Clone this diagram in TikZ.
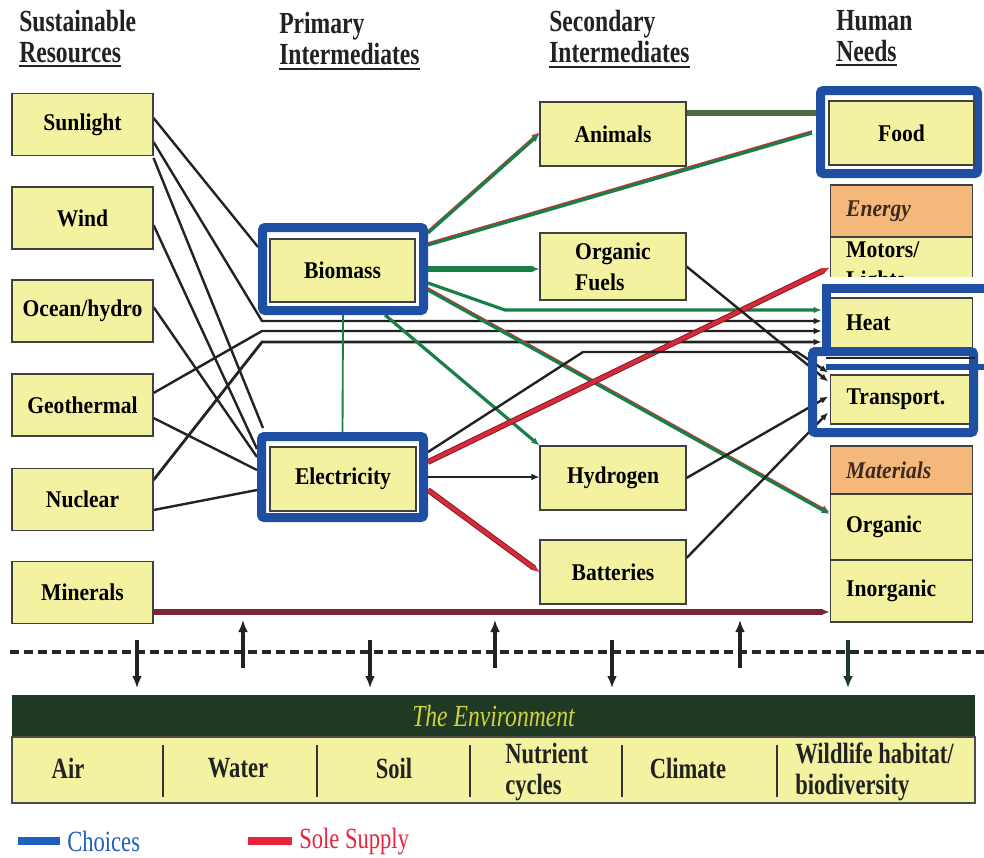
\documentclass[tikz,border=0pt]{standalone}
\usepackage{fontspec}
\setmainfont{Liberation Serif}
\newfontfamily\condfont[FakeStretch=0.77]{Liberation Serif}
\newfontfamily\cellfont[FakeStretch=0.9]{Liberation Serif}
\usetikzlibrary{arrows.meta,calc}
\pgfdeclarelayer{background}
\pgfsetlayers{background,main}

\definecolor{boxy}{HTML}{F3F2A0}
\definecolor{orng}{HTML}{F4B87A}
\definecolor{chblue}{HTML}{1F4FA3}
\definecolor{grn}{HTML}{1A7F47}
\definecolor{redc}{HTML}{D52B3A}
\definecolor{darkred}{HTML}{8B1A22}
\definecolor{maroon}{HTML}{7C2633}
\definecolor{olivec}{HTML}{4E6B40}
\definecolor{envg}{HTML}{1E3A25}
\definecolor{envtxt}{HTML}{D2D23A}
\definecolor{ink}{HTML}{222222}
\definecolor{legblue}{HTML}{1F5FBF}
\definecolor{legred}{HTML}{E8243A}
\definecolor{catink}{HTML}{3D2B1F}

\tikzset{
  cell/.style={draw=black!75, line width=0.8pt, fill=boxy, inner sep=0pt,
    font=\cellfont\bfseries\fontsize{18}{20}\selectfont, align=center},
  src/.style={cell, minimum width=105.75pt, minimum height=46.5pt},
  mid/.style={cell, minimum width=109.5pt, minimum height=48pt},
  need/.style={cell, text width=83pt, inner xsep=12pt, align=left},
  choice/.style={draw=chblue, line width=6.75pt, fill=white, rounded corners=2pt, inner sep=0pt},
  hdr/.style={inner sep=0pt, font=\condfont\bfseries\fontsize{23}{24}\selectfont, text=ink},
  uline/.style={draw=ink, line width=1.3pt},
  envlab/.style={inner sep=0pt, font=\condfont\bfseries\fontsize{22}{23}\selectfont, align=left, text=ink},
  arr/.style={-{Latex[length=6pt,width=5pt]}},
  blk/.style={draw=ink, line width=1.8pt},
  blkheavy/.style={draw=ink!85!envg, line width=2.1pt},
  grnline/.style={draw=grn, line width=2.4pt},
  grnthick/.style={draw=grn, line width=4.2pt},
  grnthin/.style={draw=grn, line width=1.4pt},
  redgreen/.style={draw=grn, line width=2.4pt,
    preaction={draw=redc, line width=1.6pt, transform canvas={yshift=1.3pt}}},
  redline/.style={draw=redc, line width=2.8pt, preaction={draw=darkred, line width=4.3pt}},
  envarrow/.style={draw=ink, line width=3pt, -{Latex[length=9pt,width=7.5pt]}}
}

\begin{document}
\begin{tikzpicture}[x=0.75pt,y=-0.75pt]
\useasboundingbox (0,0) rectangle (984,857);

% column headings
\node[hdr, anchor=base west] (hsus) at (19,31) {Sustainable};
\node[hdr, anchor=base west] (hres) at (19,62) {Resources};
\node[hdr, anchor=base west] (hpri) at (279,33) {Primary};
\node[hdr, anchor=base west] (hint1) at (279,64) {Intermediates};
\node[hdr, anchor=base west] (hsec) at (549,31) {Secondary};
\node[hdr, anchor=base west] (hint2) at (549,62) {Intermediates};
\node[hdr, anchor=base west] (hhum) at (836,30) {Human};
\node[hdr, anchor=base west] (hnee) at (836,61) {Needs};
\draw[uline] ($(hres.base west)+(0,4)$) -- ($(hres.base east)+(0,4)$);
\draw[uline] ($(hint1.base west)+(0,5)$) -- ($(hint1.base east)+(0,5)$);
\draw[uline] ($(hint2.base west)+(0,5)$) -- ($(hint2.base east)+(0,5)$);
\draw[uline] ($(hnee.base west)+(0,4)$) -- ($(hnee.base east)+(0,4)$);

% sustainable resources
\node[src] (sun)   at (82.5,124.5) {Sunlight};
\node[src] (wind)  at (82.5,218)   {Wind};
\node[src] (ocean) at (82.5,311)   {Ocean/hydro};
\node[src] (geo)   at (82.5,405)   {Geothermal};
\node[src] (nuc)   at (82.5,499.5) {Nuclear};
\node[src] (min)   at (82.5,592.5) {Minerals};

% primary intermediates (framed as choices)
\node[choice, minimum width=120.75pt, minimum height=62.25pt] (bioF) at (343,269) {};
\node[cell, minimum width=108.75pt, minimum height=47.25pt] (bio) at (342.5,270.5) {Biomass};
\node[choice, minimum width=121.5pt, minimum height=60.75pt] (eleF) at (342.5,477) {};
\node[cell, minimum width=109.5pt, minimum height=48pt] (ele) at (343,479) {Electricity};

% secondary intermediates
\node[mid] (anim) at (613,134) {Animals};
\node[mid, minimum height=50.25pt, align=left, font=\cellfont\bfseries\fontsize{18}{23}\selectfont] (fuel) at (613,266.5) {Organic\\Fuels};
\node[mid] (hydro) at (613,478) {Hydrogen};
\node[mid] (batt) at (613,572) {Batteries};

% human needs
\node[choice, minimum width=117.75pt, minimum height=62.25pt] (foodF) at (899,132) {};
\node[cell, minimum width=108.75pt, minimum height=48pt] (food) at (901.5,133) {Food};

\node[need, fill=orng, minimum height=39pt, font=\cellfont\bfseries\itshape\fontsize{18}{20}\selectfont, text=catink] (energy) at (901.5,211) {Energy};
\node[need, minimum height=45.75pt, font=\cellfont\bfseries\fontsize{18}{22.5}\selectfont] (motors) at (901.5,267.5) {Motors/\\Lights};
\node[need, minimum height=37.5pt] (heat) at (901.5,323) {Heat};
\node[need, text width=80pt, minimum height=36.75pt] (trans) at (900,399.5) {Transport.};

\node[need, fill=orng, minimum height=36pt, font=\cellfont\bfseries\itshape\fontsize{18}{20}\selectfont, text=catink] (mats) at (901.5,470) {Materials};
\node[need, minimum height=49.5pt] (orgm) at (901.5,527) {Organic};
\node[need, minimum height=46.5pt] (inorg) at (901.5,591) {Inorganic};

% frames around heat and transport
\fill[white] (826,277) rectangle (984,297.4);
\draw[chblue, line width=6.75pt] (984,288) -- (826,288) -- (826,347);
\draw[chblue, line width=6.75pt, rounded corners=2pt] (812.5,351.5) rectangle (973.5,432.5);
\draw[ink, line width=0.8pt] (826,358) -- (975,358);
\draw[chblue, line width=4pt] (826,367) -- (984,367);

% bend points of the routed connectors
\coordinate (h1) at (262,321);
\coordinate (h2) at (262,331);
\coordinate (h3) at (262,342);
\coordinate (hg) at (505,310);
\coordinate (e1) at (583,352);
\coordinate (e2) at (797,352);

\begin{pgfonlayer}{background}
  % resources into biomass, electricity and heat
  \draw[blk] ($(sun.east)+(0,-6.5)$) -- ($(bioF.west)+(0,-22)$);
  \draw[blk, arr] ($(sun.east)+(0,17.5)$) -- (h1) -- ($(heat.west)+(-8,-2)$);
  \draw[blk] ($(sun.east)+(0,33.5)$) -- ($(eleF.north west)+(6,-4)$);
  \draw[blk] ($(wind.east)+(0,7)$) -- ($(eleF.west)+(0,-28)$);
  \draw[blk] ($(ocean.east)+(0,-4)$) -- ($(eleF.west)+(0,-20)$);
  \draw[blk, arr] ($(geo.east)+(0,-12)$) -- (h2) -- ($(heat.west)+(-8,8)$);
  \draw[blk] ($(geo.east)+(0,13)$) -- ($(eleF.west)+(0,-7)$);
  \draw[blkheavy, arr] ($(nuc.east)+(0,-19.5)$) -- (h3) -- ($(heat.west)+(-8,19)$);
  \draw[blk] ($(nuc.east)+(0,10.5)$) -- ($(eleF.west)+(0,13)$);
  \draw[maroon, line width=3.8pt, -{Latex[length=6pt,width=5pt]}] ($(min.east)+(0,19.5)$) coordinate (m0) -- (m0 -| inorg.west);

  % biomass outputs
  \draw[redgreen, arr] ($(bioF.east)+(0,-36)$) -- (anim.west);
  \draw[redgreen] ($(bioF.east)+(0,-24)$) -- ($(foodF.west)+(-4,1)$);
  \draw[olivec, line width=4.5pt] ($(anim.east)+(0,-21)$) coordinate (a0) -- (a0 -| foodF.west);
  \draw[grnthick, arr] (bioF.east) -- (bioF.east -| fuel.west);
  \draw[grnline, arr] ($(bioF.east)+(0,14)$) -- (hg) -- ($(heat.west)+(-8,-13)$);
  \draw[redgreen, arr] ($(bioF.east)+(0,21)$) -- ($(orgm.west)+(0,-13)$);
  \draw[grnline, arr] ($(bioF.south)+(42,0)$) -- (hydro.north west);
  \draw[grnthin] (bioF.south) -- (eleF.north);

  % electricity outputs
  \draw[redline, arr] ($(eleF.east)+(0,-15)$) -- (motors.west);
  \draw[blk, arr] ($(eleF.east)+(0,-25)$) -- (e1) -- (e2) -- ($(trans.west)+(-2,-27)$);
  \draw[blk, arr] (eleF.east) -- (eleF.east -| hydro.west);
  \draw[redline, arr] ($(eleF.east)+(0,13)$) -- (batt.west);

  % fuels and carriers into transport
  \draw[blk, arr] (fuel.east) -- ($(trans.west)+(-2,-18)$);
  \draw[blk, arr] (hydro.east) -- ($(trans.west)+(-2,-3)$);
  \draw[blk, arr] ($(batt.east)+(0,-14)$) -- ($(trans.west)+(-2,13)$);
\end{pgfonlayer}

% exchanges with the environment
\draw[draw=ink!70!envg, line width=2.4pt, dash pattern=on 7pt off 3.5pt] (10,652) -- (984,652);
\foreach \x in {137,370,612} \draw[envarrow] (\x,640) -- (\x,688);
\foreach \x in {243,495,740} \draw[envarrow] (\x,668) -- (\x,620);
\draw[envarrow, draw=envg] (848,640) -- (848,688);

% the environment
\node[fill=envg, inner sep=0pt, minimum width=722.25pt, minimum height=31.5pt,
      font=\condfont\itshape\fontsize{23}{25}\selectfont, text=envtxt] (env) at (493.5,716) {The Environment};
\node[fill=boxy, draw=black!70, line width=0.8pt, inner sep=0pt, minimum width=722.25pt, minimum height=49.5pt] (envrow) at (493.5,770) {};
\foreach \x in {163,317,470,622,777} \draw[black!80, line width=0.9pt] (\x,745) -- (\x,797);
\node[envlab] (air) at (68,768) {Air};
\node[envlab] (water) at (238,768) {Water};
\node[envlab] (soil) at (394,768) {Soil};
\node[envlab, anchor=west] (nutr) at (505,772) {Nutrient\\cycles};
\node[envlab] (clim) at (688,768) {Climate};
\node[envlab, anchor=west] (wild) at (795,772) {Wildlife habitat/\\biodiversity};

% legend
\draw[legblue, line width=5.5pt] (18,841) -- (60,841);
\node[anchor=west, inner sep=0pt, text=legblue, font=\condfont\fontsize{22}{23}\selectfont] (lgc) at (67,841) {Choices};
\draw[legred, line width=5.5pt] (248,841) -- (292,841);
\node[anchor=west, inner sep=0pt, text=legred, font=\condfont\fontsize{22}{23}\selectfont] (lgs) at (299,841) {Sole Supply};
\end{tikzpicture}
\end{document}
